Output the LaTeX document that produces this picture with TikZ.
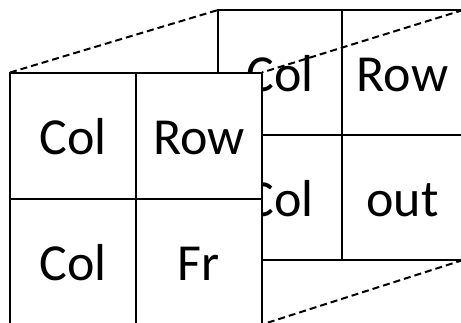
\documentclass[tikz,border=0pt]{standalone}
\usepackage{fontspec}
\setmainfont{Carlito}
\begin{document}
\begin{tikzpicture}[x=1pt,y=-1pt,
  cell/.style={draw=black, line width=2pt, inner sep=0pt, outer sep=0pt,
    anchor=north west, text height=38pt, text depth=0pt,
    font=\fontsize{52}{62}\selectfont},
  backcell/.style={cell, minimum height=125pt},
  frontcell/.style={cell, fill=white, minimum width=126pt, minimum height=126pt},
  link/.style={draw=black, line width=2pt, dash pattern=on 7pt off 4pt}]
\useasboundingbox (0,0) rectangle (461,322);
\clip (0,0) rectangle (461,322);
% back grid
\node[backcell, minimum width=124pt] (b11) at (218,10) {Col};
\node[backcell, minimum width=121pt] (b12) at (342,10) {Row};
\node[backcell, minimum width=124pt] (b21) at (218,135) {Col};
\node[backcell, minimum width=121pt] (b22) at (342,135) {out};
% dashed links
\draw[link] (b12.north east) -- (262,72.5) coordinate (fTR);
\draw[link] (b22.south east) -- (262,324.5) coordinate (fBR);
% front grid
\node[frontcell] (f11) at (10,72.5) {Col};
\node[frontcell] (f12) at (136,72.5) {Row};
\node[frontcell] (f21) at (10,198.5) {Col};
\node[frontcell] (f22) at (136,198.5) {Fr};
\draw[link] (f11.north west) -- (b11.north west);
\end{tikzpicture}
\end{document}
